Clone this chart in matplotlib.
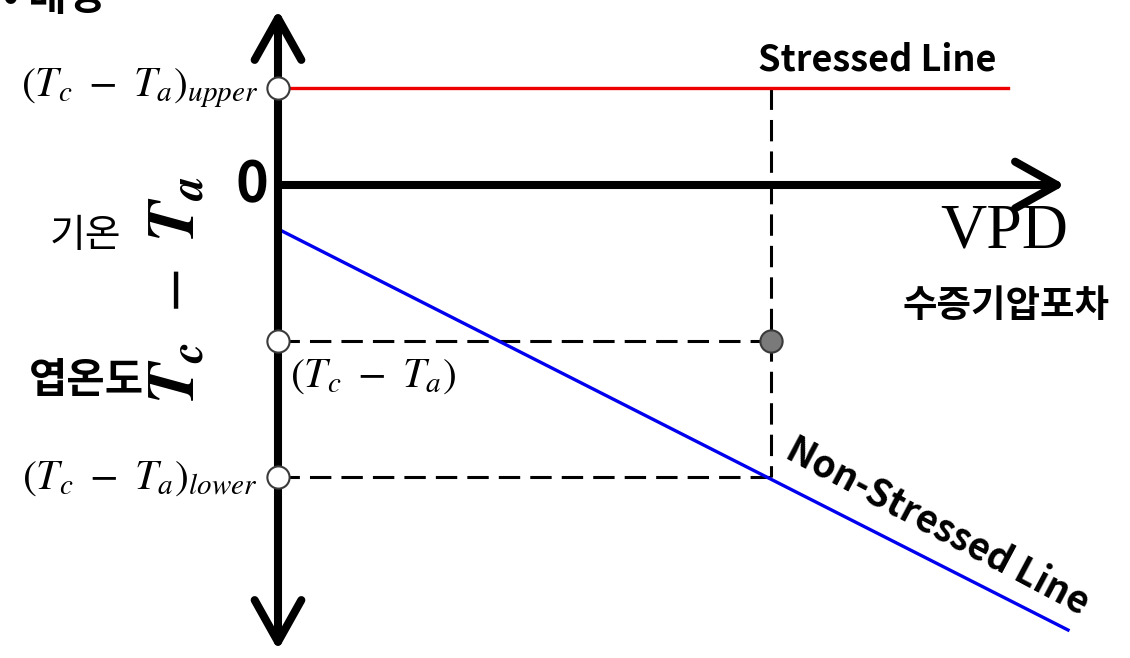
import matplotlib
matplotlib.use("Agg")
import matplotlib.pyplot as plt
from matplotlib.patches import FancyArrowPatch

# values in diagram units (VPD on x, Tc - Ta on y)
stressed_vpd = [0.0, 7.3]
stressed_dT = [0.97, 0.97]
nonstressed_vpd = [0.0, 7.9]
nonstressed_dT = [-0.44, -4.45]
vpd_obs = 4.93
dT_obs = -1.56
dT_upper = 0.97
dT_lower = -2.92
axis_x_end = 7.87
axis_y_top = 1.75
axis_y_bottom = -4.65

plt.rcParams['mathtext.fontset'] = 'stix'
kr = ['Noto Sans CJK KR', 'DejaVu Sans']

fig = plt.figure(figsize=(11.3, 6.58), dpi=100)
ax = fig.add_axes([0, 0, 1, 1])
ax.set_xlim(-2.78, 8.52)
ax.set_ylim(-4.73, 1.85)
ax.axis('off')

dash = (0, (7, 3.3))
ax.plot([vpd_obs, vpd_obs], [dT_upper, dT_lower], color='black', lw=2.2,
        linestyle=dash, zorder=2)
ax.plot([0, vpd_obs], [dT_obs, dT_obs], color='black', lw=2.2,
        linestyle=dash, zorder=2)
ax.plot([0, vpd_obs], [dT_lower, dT_lower], color='black', lw=2.2,
        linestyle=dash, zorder=2)

ax.plot(stressed_vpd, stressed_dT, color='#ee0000', lw=2.4, zorder=3)
ax.plot(nonstressed_vpd, nonstressed_dT, color='#0000ee', lw=2.4, zorder=3)

# axes as arrows
vert = FancyArrowPatch((0, axis_y_bottom), (0, axis_y_top),
                       arrowstyle='<->,head_length=0.75,head_width=0.42',
                       mutation_scale=40, lw=5.8, color='black',
                       capstyle='round', joinstyle='round',
                       shrinkA=0, shrinkB=0, zorder=4)
ax.add_patch(vert)
horiz = FancyArrowPatch((0, 0), (axis_x_end, 0),
                        arrowstyle='->,head_length=0.75,head_width=0.42',
                        mutation_scale=40, lw=5.8, color='black',
                        capstyle='round', joinstyle='round',
                        shrinkA=0, shrinkB=0, zorder=4)
ax.add_patch(horiz)

ax.plot([0, 0, 0], [dT_upper, dT_obs, dT_lower], 'o', ms=16,
        mfc='white', mec='#3a3a3a', mew=1.5, zorder=5)
ax.plot([vpd_obs], [dT_obs], 'o', ms=16, mfc='#7a7a7a', mec='#3a3a3a',
        mew=1.5, zorder=5)

# texts
ax.text(-2.75, 1.87, '• 배경', family=kr, fontweight='bold', fontsize=30,
        ha='left', va='center')
ax.text(4.80, 1.25, 'Stressed Line', family=kr, fontweight='bold',
        fontsize=26, ha='left', va='center')
ax.text(6.60, -3.42, 'Non-Stressed Line', family=kr, fontweight='bold',
        fontsize=27, ha='center', va='center', rotation=-28,
        rotation_mode='anchor')
ax.text(7.26, -0.47, 'VPD', family='Liberation Serif', fontsize=46,
        ha='center', va='center')
ax.text(7.28, -1.20, '수증기압포차', family=kr, fontweight='bold',
        fontsize=27, ha='center', va='center')
ax.text(-0.26, 0.0, '0', family=kr, fontweight='bold', fontsize=40,
        ha='center', va='center')
ax.text(-1.93, -0.51, '기온', family=kr, fontweight='medium', fontsize=28,
        ha='center', va='center')
ax.text(-1.92, -1.96, '엽온도', family=kr, fontweight='bold', fontsize=30,
        ha='center', va='center')
ax.text(-1.03, -1.05,
        r'$\mathbfit{T}_{\mathbfit{c}}\ -\ \mathbfit{T}_{\mathbfit{a}}$',
        fontsize=48, rotation=90, ha='center', va='center')

ax.text(-0.20, dT_upper, r'$(T_c\ -\ T_a)_{upper}$', fontsize=30,
        ha='right', va='center')
ax.text(0.12, dT_obs - 0.34, r'$(T_c\ -\ T_a)$', fontsize=30,
        ha='left', va='center')
ax.text(-0.20, dT_lower, r'$(T_c\ -\ T_a)_{lower}$', fontsize=30,
        ha='right', va='center')

fig.savefig('out.png', dpi=100)
